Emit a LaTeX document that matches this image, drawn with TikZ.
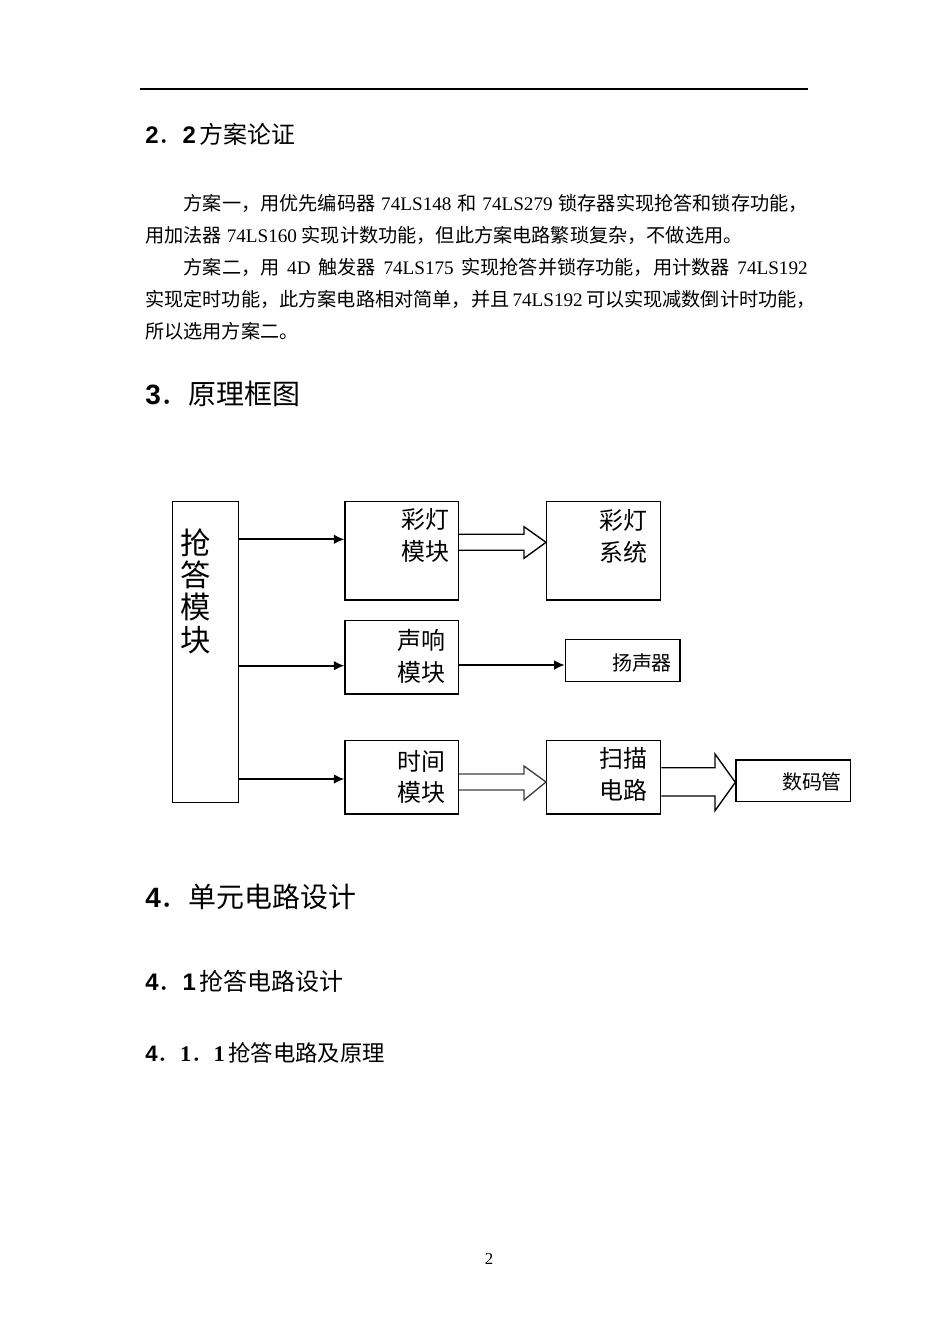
\documentclass[tikz,border=0pt]{standalone}
\usepackage{fontspec}
\setmainfont{Liberation Serif}
\newfontfamily\cjk{Noto Sans CJK SC}
\newfontfamily\arial{Liberation Sans}
\usetikzlibrary{arrows.meta,fit}
\newlength\pxu
\setlength\pxu{0.6263pt}
\begin{document}
\begin{tikzpicture}[x=0.6263pt,y=-0.6263pt,
  box/.style={draw, line width=0.85pt, inner sep=0pt},
  arr/.style={line width=1.1pt, -{Latex[length=6.5pt,width=6pt]}},
  hollow/.style={line width=0.85pt, line join=miter},
  body/.style={inner sep=0pt, anchor=base west, font=\fontsize{12pt}{14pt}\selectfont},
  lbl/.style={inner sep=0pt, font=\cjk\fontsize{15pt}{17pt}\selectfont},
  slbl/.style={inner sep=0pt, font=\cjk\fontsize{12.5pt}{14pt}\selectfont}]
\useasboundingbox (0,0) rectangle (950,1344);
\fill[white] (0,0) rectangle (950,1344);

% header rule
\coordinate (rl) at (140,89);
\coordinate (rr) at (808,89);
\draw[line width=1pt] (rl) -- (rr);

% heading 2.2
\node[inner sep=0pt, anchor=base west, font=\fontsize{15pt}{17pt}\selectfont] (h22) at (145,143.5)
  {{\arial\bfseries 2}{\cjk ．}{\arial\bfseries 2}\,{\cjk 方案论证}};

% paragraph
\node[body] (p1) at (183.4,210) {\makebox[624\pxu][s]{{\cjk 方案一，用优先编码器} 74LS148 {\cjk 和} 74LS279 {\cjk 锁存器实现抢答和锁存功能，}}};
\node[body] (p2) at (145,242) {{\cjk 用加法器} 74LS160 {\cjk 实现计数功能，但此方案电路繁琐复杂，不做选用。}};
\node[body] (p3) at (183.4,274) {\makebox[624\pxu][s]{{\cjk 方案二，用} 4D {\cjk 触发器} 74LS175 {\cjk 实现抢答并锁存功能，用计数器} 74LS192}};
\node[body] (p4) at (145,306) {\makebox[662\pxu][s]{{\cjk 实现定时功能，此方案电路相对简单，并且} 74LS192 {\cjk 可以实现减数倒计时功能，}}};
\node[body] (p5) at (145,338) {{\cjk 所以选用方案二。}};

% heading 3
\node[inner sep=0pt, anchor=base west, font=\fontsize{17.5pt}{19pt}\selectfont] (h3) at (145,404)
  {{\arial\bfseries 3}{\cjk ．原理框图}};

% diagram boxes
\node[box, fit={(172.7,501.7) (238.7,802.7)}] (qd) {};
\node[box, fit={(345,501.7) (458.3,600)}] (cdm) {};
\node[box, fit={(546.7,501.7) (660.7,600)}] (cds) {};
\node[box, fit={(345,620.7) (458.3,694)}] (sx) {};
\node[box, fit={(565.3,639.7) (680,681.3)}] (ysq) {};
\node[box, fit={(345,740.7) (458.3,814)}] (sj) {};
\node[box, fit={(546.7,740.7) (660.7,814)}] (sm) {};
\node[box, fit={(736,760) (850.7,801.7)}] (smg) {};

% box texts
\node[inner sep=0pt, font=\cjk\fontsize{19pt}{21pt}\selectfont] (t1) at (196,543) {抢};
\node[inner sep=0pt, font=\cjk\fontsize{19pt}{21pt}\selectfont] (t2) at (196,575) {答};
\node[inner sep=0pt, font=\cjk\fontsize{19pt}{21pt}\selectfont] (t3) at (196,607) {模};
\node[inner sep=0pt, font=\cjk\fontsize{19pt}{21pt}\selectfont] (t4) at (196,640) {块};

\node[lbl] (t5) at (425,519) {彩灯};
\node[lbl] (t6) at (425,551) {模块};
\node[lbl] (t7) at (623,520) {彩灯};
\node[lbl] (t8) at (623,552) {系统};
\node[lbl] (t9) at (421,640) {声响};
\node[lbl] (t10) at (421,672) {模块};
\node[slbl] (t11) at (642,663) {扬声器};
\node[lbl] (t12) at (421,761) {时间};
\node[lbl] (t13) at (421,792) {模块};
\node[lbl] (t14) at (623,758) {扫描};
\node[lbl] (t15) at (623,790) {电路};
\node[slbl] (t16) at (812,782) {数码管};

% connectors from the answer module
\draw[arr] (qd.east |- 0,539.3) -- (cdm.west |- 0,539.3);
\draw[arr] (qd.east |- 0,665.7) -- (sx.west |- 0,665.7);
\draw[arr] (qd.east |- 0,779) -- (sj.west |- 0,779);
\draw[arr] (sx.east |- 0,665) -- (ysq.west |- 0,665);

% hollow arrows
\draw[hollow] (cdm.east |- 0,534.3) -- (524,534.3) -- (524,526.7) -- (cds.west |- 0,542.3)
  -- (524,558.3) -- (524,550.3) -- (cdm.east |- 0,550.3);
\draw[hollow, draw=black!75] (sj.east |- 0,774) -- (524,774) -- (524,766) -- (sm.west |- 0,782)
  -- (524,800) -- (524,790) -- (sj.east |- 0,790);
\draw[hollow] (sm.east |- 0,767.7) -- (715,767.7) -- (715,754) -- (smg.west |- 0,782.3)
  -- (715,810.7) -- (715,796) -- (sm.east |- 0,796);

% heading 4
\node[inner sep=0pt, anchor=base west, font=\fontsize{17.5pt}{19pt}\selectfont] (h4) at (145,907)
  {{\arial\bfseries 4}{\cjk ．单元电路设计}};
\node[inner sep=0pt, anchor=base west, font=\fontsize{15pt}{17pt}\selectfont] (h41) at (145,990)
  {{\arial\bfseries 4}{\cjk ．}{\arial\bfseries 1}\,{\cjk 抢答电路设计}};
\node[inner sep=0pt, anchor=base west, font=\fontsize{14pt}{16pt}\selectfont] (h411) at (145,1061.5)
  {{\arial\bfseries 4}{\cjk ．}{\bfseries 1}{\cjk ．}{\bfseries 1}\,{\cjk 抢答电路及原理}};

% page number
\node[inner sep=0pt, anchor=base, font=\fontsize{10.5pt}{12pt}\selectfont] (pg) at (489,1264) {2};
\end{tikzpicture}
\end{document}
